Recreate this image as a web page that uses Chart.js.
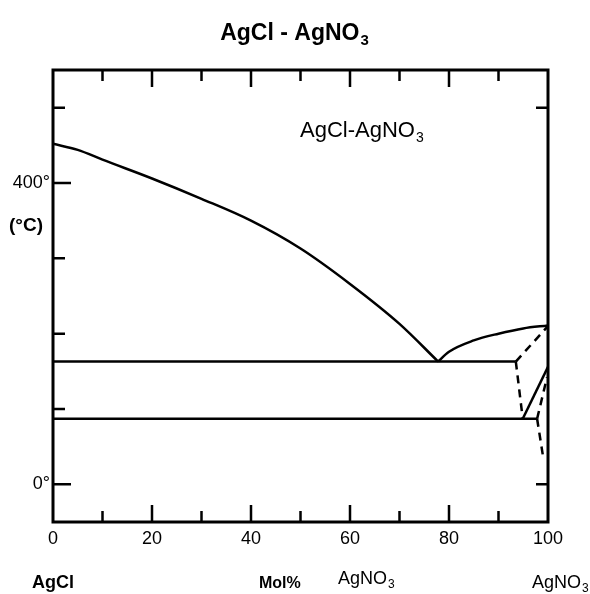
<!DOCTYPE html>
<html>
<head>
<meta charset="utf-8">
<script src="https://cdn.jsdelivr.net/npm/chart.js@4.4.1/dist/chart.umd.min.js"></script>
<style>
  html, body { margin: 0; padding: 0; background: #fff; }
</style>
</head>
<body>
<canvas id="c" width="590" height="594"></canvas>
<script>
// mol% AgNO3 vs temperature (°C)
const liqAgClX = [0, 5, 10, 20, 30, 40, 50, 60, 70, 77.8];
const liqAgClT = [452, 444, 431, 406, 379, 350, 313, 266, 213, 163];
const liqNitX = [77.8, 80, 85, 90, 95, 100];
const liqNitT = [163, 176, 191, 200, 207, 211];
const eutecticX = [0, 93.5];
const eutecticT = [163, 163];
const lowerX = [0, 97.8];
const lowerT = [87, 87];
const solidX = [94.9, 100];
const solidT = [87, 156];
const dashedLines = [
    { x: [93.5, 100], t: [163, 210] },
    { x: [93.5, 94.9], t: [163, 87] },
    { x: [97.8, 99.0], t: [87, 37] },
    { x: [97.8, 99.8], t: [87, 142] }
];
const xTickLabels = [0, 20, 40, 60, 80, 100];
const yTickLabels = { 400: '400°', 0: '0°' };

const FONT = '"Liberation Sans", Arial, sans-serif';

function pts(xs, ts) {
    return xs.map((x, i) => ({ x: x, y: ts[i] }));
}

function line(xs, ts, dashed, smooth) {
    return {
        data: pts(xs, ts),
        showLine: true,
        borderColor: '#000',
        borderWidth: 2.5,
        borderDash: dashed ? [8, 6] : [],
        pointRadius: 0,
        cubicInterpolationMode: smooth ? 'monotone' : 'default',
        tension: 0,
        fill: false
    };
}

const datasets = [
    line(liqAgClX, liqAgClT, false, true),
    line(liqNitX, liqNitT, false, true),
    line(eutecticX, eutecticT),
    line(lowerX, lowerT),
    line(solidX, solidT)
];
dashedLines.forEach(d => datasets.push(line(d.x, d.t, true)));

// text with a subscript at the end
function subText(ctx, main, sub, x, y, size, bold, align) {
    const w = bold ? 'bold ' : '';
    ctx.font = w + size + 'px ' + FONT;
    const mw = ctx.measureText(main).width;
    ctx.font = w + Math.round(size * 0.65) + 'px ' + FONT;
    const sw = ctx.measureText(sub).width;
    let x0 = x;
    if (align === 'center') x0 = x - (mw + sw) / 2;
    ctx.textAlign = 'left';
    ctx.textBaseline = 'alphabetic';
    ctx.font = w + size + 'px ' + FONT;
    ctx.fillText(main, x0, y);
    ctx.font = w + Math.round(size * 0.65) + 'px ' + FONT;
    ctx.fillText(sub, x0 + mw + 1, y + size * 0.22);
}

const decor = {
    id: 'decor',
    afterDatasetsDraw(chart) {
        const ctx = chart.ctx;
        const xs = chart.scales.x, ys = chart.scales.y;
        const a = chart.chartArea;
        ctx.save();
        ctx.strokeStyle = '#000';
        ctx.fillStyle = '#000';
        ctx.lineWidth = 3;
        ctx.strokeRect(a.left, a.top, a.right - a.left, a.bottom - a.top);

        ctx.lineWidth = 2.5;
        ctx.beginPath();
        for (let v = 10; v < 100; v += 10) {
            const px = xs.getPixelForValue(v);
            const len = v % 20 === 0 ? 17 : 11;
            ctx.moveTo(px, a.top); ctx.lineTo(px, a.top + len);
            ctx.moveTo(px, a.bottom); ctx.lineTo(px, a.bottom - len);
        }
        for (let v = 0; v <= 500; v += 100) {
            const py = ys.getPixelForValue(v);
            const len = (v === 400 || v === 0) ? 18 : 12;
            ctx.moveTo(a.left, py); ctx.lineTo(a.left + len, py);
        }
        [500, 0].forEach(v => {
            const py = ys.getPixelForValue(v);
            ctx.moveTo(a.right, py); ctx.lineTo(a.right - 12, py);
        });
        ctx.stroke();

        // titles and labels
        subText(ctx, 'AgCl - AgNO', '3', 294, 40, 23, true, 'center');
        subText(ctx, 'AgCl-AgNO', '3', 300, 137, 22, false, 'left');

        ctx.font = 'bold 19px ' + FONT;
        ctx.textAlign = 'left';
        ctx.textBaseline = 'middle';
        ctx.fillText('(°C)', 9, 226);

        ctx.font = 'bold 18px ' + FONT;
        ctx.fillText('AgCl', 32, 583);
        ctx.font = 'bold 16px ' + FONT;
        ctx.fillText('Mol%', 259, 584);
        subText(ctx, 'AgNO', '3', 338, 584, 18, false, 'left');
        subText(ctx, 'AgNO', '3', 532, 588, 18, false, 'left');
        ctx.restore();
    }
};

new Chart(document.getElementById('c'), {
    type: 'scatter',
    data: { datasets: datasets },
    options: {
        responsive: false,
        animation: false,
        devicePixelRatio: 1,
        layout: { padding: { top: 70, right: 42, left: 0, bottom: 0 } },
        plugins: { legend: { display: false }, tooltip: { enabled: false } },
        scales: {
            x: {
                type: 'linear', min: 0, max: 100,
                grid: { display: false, drawTicks: false },
                border: { display: false },
                afterBuildTicks: s => { s.ticks = xTickLabels.map(v => ({ value: v })); },
                ticks: { color: '#000', padding: 6, maxRotation: 0,
                         font: { family: FONT, size: 18 } },
                afterFit: s => { s.height = 72; }
            },
            y: {
                type: 'linear', min: -50, max: 550,
                grid: { display: false, drawTicks: false },
                border: { display: false },
                afterBuildTicks: s => { s.ticks = Object.keys(yTickLabels).map(v => ({ value: +v })); },
                ticks: { color: '#000', padding: 3,
                         font: { family: FONT, size: 18 },
                         callback: v => yTickLabels[v] || '' },
                afterFit: s => { s.width = 53; }
            }
        }
    },
    plugins: [decor]
});
</script>
</body>
</html>
